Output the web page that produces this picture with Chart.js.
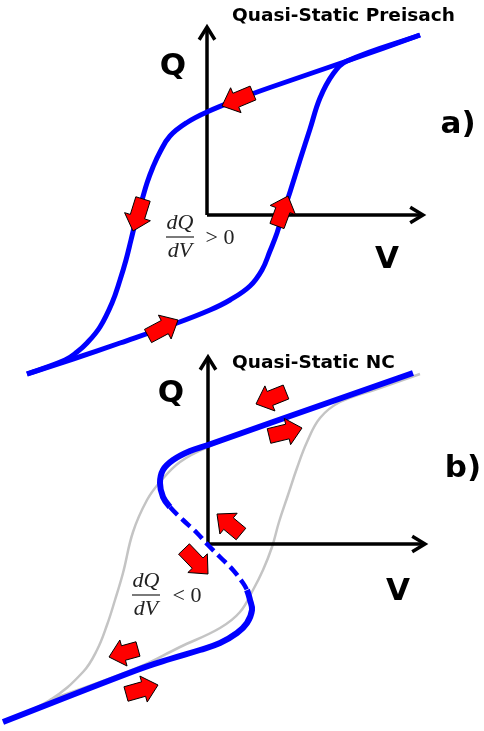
<!DOCTYPE html>
<html>
<head>
<meta charset="utf-8">
<script src="https://cdn.jsdelivr.net/npm/chart.js@4.4.1/dist/chart.umd.min.js"></script>
<style>
  body { margin: 0; background: #fff; }
  .wrap { position: relative; width: 484px; height: 731px; }
  .wrap canvas { position: absolute; left: 0; }
</style>
</head>
<body>
<div class="wrap">
  <canvas id="chartA" width="484" height="380" style="top:0"></canvas>
  <canvas id="chartB" width="484" height="391" style="top:340px"></canvas>
</div>
<script>
// panel a) : quasi-static Preisach loop, [V, Q] in arbitrary units
const aDownBranch = [[2.13, 1.80], [1.40, 1.54], [0.63, 1.275], [0.33, 1.165], [0, 1.03], [-0.20, 0.925],
  [-0.37, 0.79], [-0.47, 0.63], [-0.54, 0.48], [-0.60, 0.32], [-0.65, 0.15], [-0.71, -0.05],
  [-0.76, -0.25], [-0.81, -0.45], [-0.87, -0.65], [-0.95, -0.88], [-1.07, -1.12], [-1.20, -1.28],
  [-1.30, -1.37], [-1.42, -1.45], [-1.80, -1.59]];
const aUpBranch = [[-1.80, -1.59], [-1.34, -1.44], [-0.87, -1.28], [-0.30, -1.08], [0.03, -0.95],
  [0.23, -0.85], [0.43, -0.71], [0.55, -0.55], [0.63, -0.36], [0.70, -0.18], [0.76, 0.02], [0.83, 0.23],
  [0.93, 0.55], [1.03, 0.86], [1.13, 1.17], [1.26, 1.41], [1.40, 1.54], [2.13, 1.80]];
const aAxisTips = [[0, 1.88], [2.16, 0]];
// red arrows: [tail, tip]
const aArrows = [
  [[0.46, 1.22], [0.15, 1.09]],
  [[-0.64, 0.16], [-0.74, -0.16]],
  [[0.70, -0.11], [0.81, 0.19]],
  [[-0.59, -1.21], [-0.29, -1.05]],
];

// panel b) : quasi-static negative capacitance S-curve
const bSCurve = [[2.05, 1.71], [0.65, 1.22], [0, 0.99], [-0.18, 0.93], [-0.35, 0.84], [-0.45, 0.74],
  [-0.48, 0.61], [-0.45, 0.47], [-0.38, 0.37], [-0.25, 0.24], [-0.11, 0.11], [0, -0.01], [0.12, -0.13],
  [0.25, -0.26], [0.35, -0.39], [0.39, -0.46], [0.42, -0.56], [0.44, -0.66], [0.39, -0.79],
  [0.29, -0.89], [0.12, -0.99], [-0.08, -1.06], [-0.38, -1.15], [-0.71, -1.26], [-2.05, -1.78]];
const bDashedRange = [8, 15];
const bGreyUp = [[-1.58, -1.56], [-0.71, -1.24], [-0.28, -1.03], [0.12, -0.84], [0.32, -0.68],
  [0.45, -0.46], [0.55, -0.26], [0.64, -0.03], [0.71, 0.22], [0.80, 0.49], [0.89, 0.76], [0.99, 1.02],
  [1.12, 1.26], [1.32, 1.42], [1.72, 1.56], [2.12, 1.70]];
const bGreyDown = [[0.65, 1.22], [0, 0.97], [-0.28, 0.82], [-0.48, 0.62], [-0.61, 0.44], [-0.75, 0.12],
  [-0.85, -0.29], [-0.93, -0.56], [-1.01, -0.81], [-1.11, -1.06], [-1.25, -1.28], [-1.58, -1.56],
  [-2.05, -1.78]];
const bAxisTips = [[0, 1.87], [2.17, 0]];
const bArrows = [
  [[0.78, 1.52], [0.48, 1.40]],
  [[0.61, 1.08], [0.94, 1.16]],
  [[0.33, 0.10], [0.09, 0.30]],
  [[-0.24, -0.05], [0, -0.30]],
  [[-0.70, -1.05], [-0.99, -1.13]],
  [[-0.82, -1.50], [-0.50, -1.41]],
];

const BLUE = "#0000ff";
const GREY = "#c4c4c4";
const SANS = "'DejaVu Sans', Verdana, sans-serif";
const SERIF = "'Liberation Serif', 'DejaVu Serif', serif";

const toXY = (arr) => arr.map(([x, y]) => ({ x, y }));

function drawBlockArrow(ctx, t, p) {
  const dx = p[0] - t[0], dy = p[1] - t[1];
  const len = Math.hypot(dx, dy);
  const ux = dx / len, uy = dy / len;
  const nx = -uy, ny = ux;
  const headLen = 15, headW = 13.5, shaftW = 7.5;
  const hx = p[0] - ux * headLen, hy = p[1] - uy * headLen;
  ctx.beginPath();
  ctx.moveTo(t[0] + nx * shaftW, t[1] + ny * shaftW);
  ctx.lineTo(hx + nx * shaftW, hy + ny * shaftW);
  ctx.lineTo(hx + nx * headW, hy + ny * headW);
  ctx.lineTo(p[0], p[1]);
  ctx.lineTo(hx - nx * headW, hy - ny * headW);
  ctx.lineTo(hx - nx * shaftW, hy - ny * shaftW);
  ctx.lineTo(t[0] - nx * shaftW, t[1] - ny * shaftW);
  ctx.closePath();
  ctx.fillStyle = "#ff0000";
  ctx.fill();
  ctx.lineWidth = 1;
  ctx.strokeStyle = "#000";
  ctx.lineJoin = "miter";
  ctx.stroke();
}

const sketchPlugin = {
  id: "sketch",
  afterDatasetsDraw(chart, args, opts) {
    const ctx = chart.ctx;
    const xs = chart.scales.x, ys = chart.scales.y;
    const px = (p) => [xs.getPixelForValue(p[0]), ys.getPixelForValue(p[1])];
    const o = px([0, 0]);
    ctx.save();

    // open arrowheads on the axes
    ctx.strokeStyle = "#000";
    ctx.lineWidth = 3.5;
    ctx.lineJoin = "miter";
    ctx.lineCap = "butt";
    opts.axisTips.forEach((tipVal) => {
      const tip = px(tipVal);
      const a = Math.atan2(tip[1] - o[1], tip[0] - o[0]);
      const arm = 15, spread = 0.55;
      ctx.beginPath();
      ctx.moveTo(tip[0] - arm * Math.cos(a - spread), tip[1] - arm * Math.sin(a - spread));
      ctx.lineTo(tip[0], tip[1]);
      ctx.lineTo(tip[0] - arm * Math.cos(a + spread), tip[1] - arm * Math.sin(a + spread));
      ctx.stroke();
    });

    opts.arrows.forEach(([tail, tip]) => drawBlockArrow(ctx, px(tail), px(tip)));

    // labels
    ctx.fillStyle = "#000";
    ctx.textBaseline = "alphabetic";
    opts.labels.forEach((l) => {
      const p = px(l.at);
      ctx.font = l.font;
      ctx.textAlign = l.align || "center";
      ctx.fillText(l.text, p[0], p[1]);
    });

    // dQ/dV fraction
    const f = opts.fraction;
    const c = px(f.at);
    ctx.fillStyle = "#222";
    ctx.strokeStyle = "#222";
    ctx.font = "italic 22px " + SERIF;
    ctx.textAlign = "center";
    ctx.fillText("dQ", c[0], c[1] - 8);
    ctx.fillText("dV", c[0], c[1] + 20);
    ctx.lineWidth = 1.2;
    ctx.beginPath();
    ctx.moveTo(c[0] - 14, c[1]);
    ctx.lineTo(c[0] + 14, c[1]);
    ctx.stroke();
    const s = px(f.signAt);
    ctx.font = "22px " + SERIF;
    ctx.textBaseline = "middle";
    ctx.fillText(f.sign, s[0], s[1] + 1);
    ctx.restore();
  },
};

function curve(points, color, width, order, extra) {
  return Object.assign({
    data: toXY(points),
    borderColor: color,
    borderWidth: width,
    order,
    tension: 0.4,
  }, extra || {});
}

function axisDataset(tips) {
  return tips.map((t) => ({
    data: toXY([[0, 0], t]),
    borderColor: "#000",
    borderWidth: 3.5,
    order: 2,
    tension: 0,
  }));
}

function makeChart(id, datasets, range, pluginOpts) {
  return new Chart(document.getElementById(id), {
    type: "line",
    data: { datasets },
    options: {
      responsive: false,
      animation: false,
      devicePixelRatio: 1,
      layout: { padding: 0 },
      elements: { point: { radius: 0 }, line: { borderCapStyle: "butt", fill: false } },
      scales: {
        x: { type: "linear", display: false, min: range[0], max: range[1] },
        y: { type: "linear", display: false, min: range[2], max: range[3] },
      },
      plugins: { legend: { display: false }, tooltip: { enabled: false }, sketch: pluginOpts },
    },
    plugins: [sketchPlugin],
  });
}

makeChart("chartA", [
  curve(aDownBranch, BLUE, 5, 1),
  curve(aUpBranch, BLUE, 5, 1),
  ...axisDataset(aAxisTips),
], [-2.07, 2.77, -1.65, 2.15], {
  axisTips: aAxisTips,
  arrows: aArrows,
  labels: [
    { text: "Quasi-Static Preisach", at: [0.25, 1.94], font: "bold 18.5px " + SANS, align: "left" },
    { text: "Q", at: [-0.34, 1.40], font: "bold 31px " + SANS },
    { text: "V", at: [1.80, -0.53], font: "bold 31px " + SANS },
    { text: "a)", at: [2.51, 0.82], font: "bold 31px " + SANS },
  ],
  fraction: { at: [-0.27, -0.22], sign: "> 0", signAt: [0.13, -0.22] },
});

const inDash = (ctx) => ctx.p0DataIndex >= bDashedRange[0] && ctx.p0DataIndex < bDashedRange[1];

makeChart("chartB", [
  curve(bSCurve, BLUE, 6, 1, {
    segment: {
      borderDash: (ctx) => (inDash(ctx) ? [11, 6] : undefined),
      borderWidth: (ctx) => (inDash(ctx) ? 4.5 : undefined),
    },
  }),
  ...axisDataset(bAxisTips),
  curve(bGreyUp, GREY, 2.5, 3),
  curve(bGreyDown, GREY, 2.5, 3),
], [-2.08, 2.76, -1.87, 2.04], {
  axisTips: bAxisTips,
  arrows: bArrows,
  labels: [
    { text: "Quasi-Static NC", at: [0.24, 1.76], font: "bold 18.5px " + SANS, align: "left" },
    { text: "Q", at: [-0.37, 1.42], font: "bold 31px " + SANS },
    { text: "V", at: [1.90, -0.56], font: "bold 31px " + SANS },
    { text: "b)", at: [2.55, 0.67], font: "bold 31px " + SANS },
  ],
  fraction: { at: [-0.62, -0.51], sign: "< 0", signAt: [-0.21, -0.51] },
});
</script>
</body>
</html>
